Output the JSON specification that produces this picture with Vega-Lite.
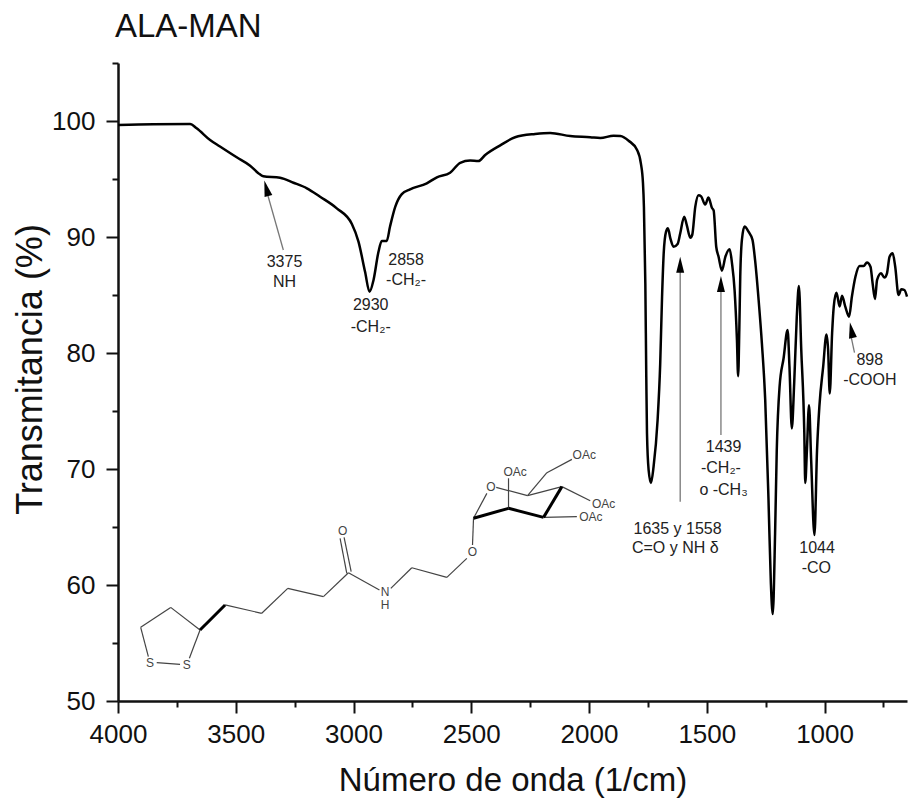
{"$schema":"https://vega.github.io/schema/vega-lite/v6.json","width":789,"height":638,"autosize":{"type":"none"},"padding":{"left":118,"top":63,"right":3,"bottom":97},"background":"white","config":{"view":{"stroke":null},"font":"Liberation Sans"},"title":{"text":"ALA-MAN","anchor":"start","frame":"group","font":"Liberation Sans","fontSize":33,"fontWeight":"normal","color":"#111","offset":18,"dx":-3},"resolve":{"axis":{"x":"independent","y":"independent"}},"encoding":{"x":{"field":"wn","type":"quantitative","scale":{"domain":[4000,650],"nice":false,"zero":false},"axis":null},"y":{"field":"t","type":"quantitative","scale":{"domain":[50,105],"nice":false,"zero":false},"axis":null}},"layer":[{"data":{"values":[{"wn":3903.7,"t":56.35,"wn2":3776.3,"t2":58.07},{"wn":3776.3,"t":58.07,"wn2":3651.7,"t2":56.12},{"wn":3651.7,"t":56.12,"wn2":3697.0,"t2":53.68},{"wn":3903.7,"t":56.35,"wn2":3871.1,"t2":53.82},{"wn":3835.7,"t":53.3,"wn2":3736.6,"t2":53.16},{"wn":3545.5,"t":58.28,"wn2":3389.7,"t2":57.56},{"wn":3389.7,"t":57.56,"wn2":3279.2,"t2":59.71},{"wn":3279.2,"t":59.71,"wn2":3127.7,"t2":59.0},{"wn":3127.7,"t":59.0,"wn2":3021.5,"t2":61.06},{"wn":3040,"t":64.11,"wn2":3010,"t2":61.15},{"wn":3057,"t":64.02,"wn2":3028.6,"t2":61.0},{"wn":3021.5,"t":61.06,"wn2":2889.9,"t2":59.57},{"wn":2841.7,"t":59.71,"wn2":2752.5,"t2":61.49},{"wn":2752.5,"t":61.49,"wn2":2603.8,"t2":60.66},{"wn":2603.8,"t":60.66,"wn2":2518.9,"t2":62.3},{"wn":2494.8,"t":63.45,"wn2":2490.5,"t2":65.75},{"wn":2490.5,"t":65.75,"wn2":2433.9,"t2":67.9},{"wn":2394.2,"t":68.42,"wn2":2261.1,"t2":67.7},{"wn":2261.1,"t":67.7,"wn2":2115.3,"t2":68.48},{"wn":2341.9,"t":66.61,"wn2":2341.9,"t2":69.2},{"wn":2261.1,"t":67.7,"wn2":2179,"t2":69.68},{"wn":2179,"t":69.68,"wn2":2072.8,"t2":70.83},{"wn":2115.3,"t":68.48,"wn2":1994.9,"t2":67.27},{"wn":2193.2,"t":65.83,"wn2":2051.6,"t2":65.89}]},"mark":{"type":"rule","color":"#444","strokeWidth":1.2},"encoding":{"x2":{"field":"wn2"},"y2":{"field":"t2"}}},{"data":{"values":[{"wn":3651.7,"t":56.12,"wn2":3545.5,"t2":58.28},{"wn":2490.5,"t":65.75,"wn2":2341.9,"t2":66.61},{"wn":2341.9,"t":66.61,"wn2":2193.2,"t2":65.83},{"wn":2193.2,"t":65.83,"wn2":2115.3,"t2":68.48}]},"mark":{"type":"rule","color":"#000","strokeWidth":3},"encoding":{"x2":{"field":"wn2"},"y2":{"field":"t2"}}},{"data":{"values":[{"wn":3864,"t":53.3,"label":"S"},{"wn":3708.3,"t":53.1,"label":"S"},{"wn":3045.6,"t":64.68,"label":"O"},{"wn":2865.8,"t":59.4,"label":"N"},{"wn":2865.8,"t":58.28,"label":"H"},{"wn":2494.8,"t":62.87,"label":"O"},{"wn":2416.9,"t":68.48,"label":"O"},{"wn":2313.5,"t":69.71,"label":"OAc"},{"wn":2020.4,"t":71.21,"label":"OAc"},{"wn":1938.3,"t":66.98,"label":"OAc"},{"wn":1992.1,"t":65.89,"label":"OAc"}]},"mark":{"type":"text","font":"Liberation Sans","fontSize":12,"color":"#444","baseline":"middle","align":"center"},"encoding":{"text":{"field":"label"}}},{"data":{"values":[{"wn":3298,"t":88.88,"wn2":3363,"t2":93.53},{"wn":1613,"t":67.18,"wn2":1613,"t2":86.98},{"wn":1440,"t":72.93,"wn2":1440,"t2":85.3},{"wn":873,"t":80.03,"wn2":888,"t2":81.47}]},"mark":{"type":"rule","color":"#777","strokeWidth":1.3},"encoding":{"x2":{"field":"wn2"},"y2":{"field":"t2"}}},{"data":{"values":[{"wn":1613,"t":87.6},{"wn":1440,"t":85.95}]},"mark":{"type":"point","shape":"M0,-1L-0.5,1L0.5,1Z","size":256,"filled":true,"color":"#000","opacity":1},"encoding":{"x":{"field":"wn","type":"quantitative","scale":{"domain":[4000,650],"nice":false,"zero":false},"axis":{"orient":"bottom","title":null,"values":[3750,3250,2750,2250,1750,1250,750],"labels":false,"domain":false,"tickSize":6,"tickWidth":2,"tickColor":"#111","grid":false}},"y":{"field":"t","type":"quantitative","scale":{"domain":[50,105],"nice":false,"zero":false},"axis":{"orient":"left","title":null,"values":[55,65,75,85,95,105],"labels":false,"domain":false,"tickSize":6,"tickWidth":2,"tickColor":"#111","grid":false}}}},{"data":{"values":[{"wn":3370,"t":94.2}]},"mark":{"type":"point","shape":"M0,-1L-0.5,1L0.5,1Z","size":256,"filled":true,"color":"#000","opacity":1,"angle":-15}},{"data":{"values":[{"wn":886,"t":81.98}]},"mark":{"type":"point","shape":"M0,-1L-0.5,1L0.5,1Z","size":256,"filled":true,"color":"#000","opacity":1,"angle":-11}},{"data":{"values":[{"wn":3293,"t":87.87,"label":"3375"},{"wn":3293,"t":86.12,"label":"NH"},{"wn":2777,"t":88.02,"label":"2858"},{"wn":2777,"t":86.29,"label":"-CH₂-"},{"wn":2927,"t":84.14,"label":"2930"},{"wn":2927,"t":82.27,"label":"-CH₂-"},{"wn":808,"t":79.4,"label":"898"},{"wn":808,"t":77.67,"label":"-COOH"},{"wn":1429,"t":71.92,"label":"1439"},{"wn":1440,"t":70.09,"label":"-CH₂-"},{"wn":1429,"t":68.19,"label":"o -CH₃"},{"wn":1624,"t":64.83,"label":"1635 y 1558"},{"wn":1634,"t":63.16,"label":"C=O y NH δ"},{"wn":1032,"t":63.16,"label":"1044"},{"wn":1035,"t":61.44,"label":"-CO"}]},"mark":{"type":"text","font":"Liberation Sans","fontSize":16,"color":"#222","baseline":"middle","align":"center"},"encoding":{"text":{"field":"label"}}},{"data":{"values":[{"wn":4000,"t":99.65},{"wn":3850,"t":99.72},{"wn":3694,"t":99.74},{"wn":3666,"t":99.37},{"wn":3609,"t":98.36},{"wn":3567,"t":97.8},{"wn":3496,"t":96.87},{"wn":3439,"t":96.15},{"wn":3404,"t":95.5},{"wn":3383,"t":95.23},{"wn":3312,"t":95.1},{"wn":3255,"t":94.68},{"wn":3198,"t":94.2},{"wn":3142,"t":93.47},{"wn":3071,"t":92.47},{"wn":3007,"t":91.12},{"wn":2979,"t":89.6},{"wn":2951,"t":87.0},{"wn":2932,"t":85.28},{"wn":2915,"t":86.3},{"wn":2894,"t":88.73},{"wn":2880,"t":89.66},{"wn":2859,"t":89.66},{"wn":2845,"t":90.9},{"wn":2823,"t":92.6},{"wn":2795,"t":93.7},{"wn":2760,"t":94.1},{"wn":2689,"t":94.63},{"wn":2646,"t":95.15},{"wn":2590,"t":95.54},{"wn":2547,"t":96.4},{"wn":2505,"t":96.6},{"wn":2470,"t":96.55},{"wn":2441,"t":97.07},{"wn":2377,"t":97.9},{"wn":2314,"t":98.6},{"wn":2229,"t":98.88},{"wn":2165,"t":98.97},{"wn":2080,"t":98.7},{"wn":1995,"t":98.6},{"wn":1952,"t":98.53},{"wn":1896,"t":98.73},{"wn":1867,"t":98.7},{"wn":1832,"t":98.3},{"wn":1796,"t":97.5},{"wn":1780,"t":96.35},{"wn":1771,"t":94.65},{"wn":1767,"t":92.6},{"wn":1761,"t":86.0},{"wn":1757,"t":78.0},{"wn":1754,"t":73.1},{"wn":1747,"t":69.9},{"wn":1737,"t":68.8},{"wn":1726,"t":70.2},{"wn":1709,"t":74.2},{"wn":1698,"t":79.0},{"wn":1690,"t":84.85},{"wn":1683,"t":88.6},{"wn":1673,"t":90.46},{"wn":1665,"t":90.75},{"wn":1655,"t":89.9},{"wn":1641,"t":89.16},{"wn":1624,"t":89.4},{"wn":1613,"t":90.3},{"wn":1596,"t":91.75},{"wn":1585,"t":91.03},{"wn":1570,"t":89.94},{"wn":1562,"t":90.17},{"wn":1549,"t":92.6},{"wn":1535,"t":93.6},{"wn":1524,"t":93.5},{"wn":1507,"t":92.8},{"wn":1493,"t":93.4},{"wn":1478,"t":92.5},{"wn":1471,"t":92.3},{"wn":1460,"t":89.16},{"wn":1450,"t":88.3},{"wn":1436,"t":87.1},{"wn":1421,"t":88.3},{"wn":1403,"t":88.94},{"wn":1393,"t":87.73},{"wn":1382,"t":85.4},{"wn":1372,"t":81.1},{"wn":1367,"t":78.0},{"wn":1362,"t":82.0},{"wn":1358,"t":86.6},{"wn":1351,"t":89.75},{"wn":1340,"t":90.9},{"wn":1323,"t":90.46},{"wn":1306,"t":89.75},{"wn":1295,"t":88.0},{"wn":1280,"t":84.57},{"wn":1266,"t":80.8},{"wn":1252,"t":75.95},{"wn":1238,"t":67.3},{"wn":1228,"t":60.15},{"wn":1220,"t":57.5},{"wn":1210,"t":64.5},{"wn":1203,"t":71.6},{"wn":1191,"t":77.1},{"wn":1174,"t":79.55},{"wn":1157,"t":81.98},{"wn":1149,"t":78.8},{"wn":1139,"t":73.5},{"wn":1129,"t":77.4},{"wn":1118,"t":83.1},{"wn":1109,"t":85.78},{"wn":1099,"t":80.3},{"wn":1086,"t":73.1},{"wn":1082,"t":68.8},{"wn":1075,"t":71.6},{"wn":1066,"t":75.5},{"wn":1057,"t":70.8},{"wn":1043,"t":64.3},{"wn":1032,"t":71.6},{"wn":1022,"t":75.4},{"wn":1006,"t":78.8},{"wn":992,"t":81.6},{"wn":985,"t":80.3},{"wn":978,"t":76.5},{"wn":968,"t":81.7},{"wn":961,"t":84.0},{"wn":950,"t":85.2},{"wn":945,"t":84.85},{"wn":936,"t":84.0},{"wn":926,"t":84.94},{"wn":912,"t":84.0},{"wn":896,"t":83.13},{"wn":884,"t":84.85},{"wn":869,"t":86.57},{"wn":851,"t":87.5},{"wn":834,"t":87.5},{"wn":820,"t":87.8},{"wn":805,"t":87.44},{"wn":796,"t":86.0},{"wn":786,"t":84.66},{"wn":777,"t":86.3},{"wn":760,"t":86.87},{"wn":746,"t":86.5},{"wn":735,"t":86.87},{"wn":724,"t":88.3},{"wn":711,"t":88.6},{"wn":700,"t":87.44},{"wn":686,"t":85.0},{"wn":674,"t":85.5},{"wn":661,"t":85.43},{"wn":650,"t":84.86}]},"mark":{"type":"line","color":"#000","strokeWidth":2.5,"interpolate":"monotone","strokeJoin":"round"},"encoding":{"x":{"field":"wn","type":"quantitative","scale":{"domain":[4000,650],"nice":false,"zero":false},"axis":{"orient":"bottom","title":"Número de onda (1/cm)","titleFont":"Liberation Sans","titleFontSize":33,"titleFontWeight":"normal","titleColor":"#111","titleBaseline":"alphabetic","titleY":89,"values":[4000,3500,3000,2500,2000,1500,1000],"format":"d","labelFont":"Liberation Sans","labelFontSize":26,"labelColor":"#111","labelPadding":8,"labelOverlap":false,"labelBound":false,"labelFlush":false,"tickSize":12,"tickWidth":2,"tickColor":"#111","domainWidth":2.5,"domainColor":"#111","grid":false}},"y":{"field":"t","type":"quantitative","scale":{"domain":[50,105],"nice":false,"zero":false},"axis":{"orient":"left","title":"Transmitancia (%)","titleFont":"Liberation Sans","titleFontSize":36,"titleFontWeight":"normal","titleColor":"#111","titleBaseline":"alphabetic","titleAngle":-90,"titleX":-77,"titleY":306,"values":[50,60,70,80,90,100],"format":"d","labelFont":"Liberation Sans","labelFontSize":26,"labelColor":"#111","labelPadding":11,"labelOverlap":false,"labelBound":false,"labelFlush":false,"tickSize":12,"tickWidth":2,"tickColor":"#111","domainWidth":2.5,"domainColor":"#111","grid":false}}}}]}
